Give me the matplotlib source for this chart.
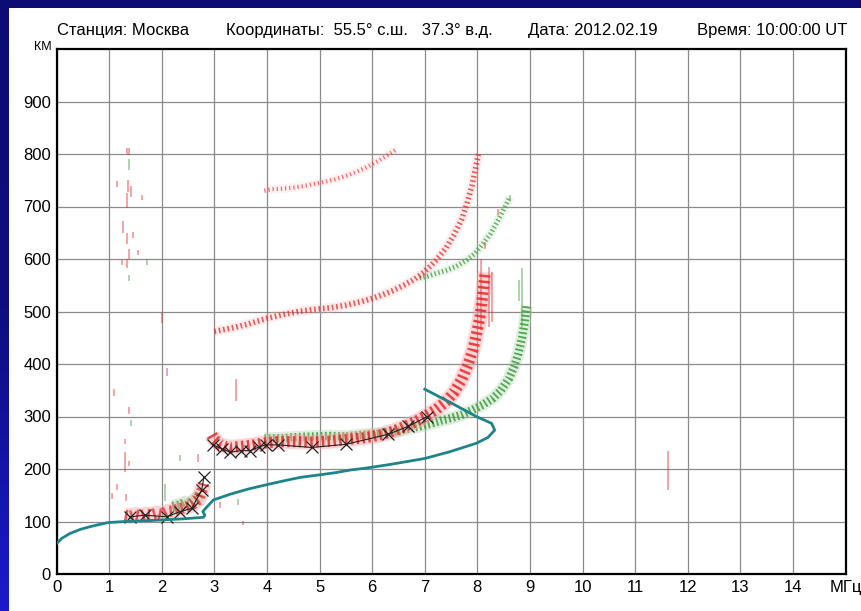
import matplotlib
matplotlib.use("Agg")
import matplotlib.pyplot as plt
import numpy as np
from matplotlib.patches import Rectangle
from matplotlib.colors import LinearSegmentedColormap

plt.rcParams['font.family'] = ['Liberation Sans', 'DejaVu Sans']

# ---------------- data ----------------
x_ticks = list(range(0, 16))
x_tick_labels = [str(v) for v in range(0, 15)] + ['МГц']
y_ticks = list(range(0, 1000, 100))
y_tick_labels = [str(v) for v in y_ticks]

header = ["Станция: Москва", "Координаты:  55.5° с.ш.   37.3° в.д.",
          "Дата: 2012.02.19", "Время: 10:00:00 UT"]

# electron density profile (teal)
profile_f = [0.00, 0.10, 0.25, 0.45, 0.63, 0.80, 0.98, 1.30, 1.60, 2.00, 2.40, 2.79, 2.82,
             2.78, 2.86, 2.98, 3.30, 3.65, 3.99, 4.30, 4.63, 5.01, 5.30, 5.58, 5.90, 6.30,
             6.65, 7.00, 7.48, 7.98, 8.20, 8.33, 8.27, 7.98, 7.50, 7.00]
profile_h = [58, 68, 77, 85, 90, 94, 98, 100, 101, 103, 105, 108, 112,
             119, 128, 141, 152, 162, 170, 177, 184, 189, 193, 198, 202, 208,
             214, 220, 233, 249, 260, 274, 287, 300, 326, 352]

# scaled trace marks (black X)
xe_f = [1.40, 1.68, 2.09, 2.35, 2.57, 2.76, 2.80]
xe_h = [109, 112, 109, 119, 125, 160, 185]
xf_f = [2.98, 3.15, 3.30, 3.50, 3.68, 3.85, 3.98, 4.21, 4.85, 5.50, 6.30, 6.68, 7.05]
xf_h = [246, 238, 232, 235, 235, 242, 246, 246, 241, 247, 266, 281, 300]

# O-mode (red) traces
red_e_f = [1.30, 1.40, 1.50, 1.60, 1.70, 1.80, 1.90, 2.00, 2.10, 2.20, 2.30, 2.40, 2.50,
           2.60, 2.70, 2.75, 2.80]
red_e_h = [112, 110, 113, 111, 114, 113, 116, 114, 119, 120, 123, 126, 129,
           134, 142, 155, 172]
red_f_f = [2.95, 3.00, 3.10, 3.20, 3.30, 3.40, 3.50, 3.60, 3.70, 3.80, 3.90, 4.00, 4.20,
           4.40, 4.60, 4.80, 5.00, 5.20, 5.40, 5.60, 5.80, 6.00, 6.20, 6.40, 6.60, 6.80,
           7.00, 7.20, 7.40, 7.55, 7.70, 7.82, 7.92, 7.98, 8.05, 8.10, 8.15]
red_f_h = [265, 256, 247, 243, 241, 242, 243, 244, 245, 247, 249, 250, 252,
           252, 252, 251, 252, 253, 255, 257, 259, 262, 266, 272, 280, 289,
           300, 312, 328, 345, 370, 398, 428, 455, 490, 530, 575]
red_2f_f = [3.00, 3.20, 3.40, 3.60, 3.80, 4.00, 4.30, 4.60, 4.90, 5.20, 5.50, 5.80,
            6.00, 6.20, 6.40, 6.60, 6.80, 7.00, 7.20, 7.40, 7.55, 7.70, 7.80, 7.90,
            7.96, 8.02]
red_2f_h = [462, 466, 470, 475, 481, 487, 494, 500, 504, 507, 512, 519,
            525, 532, 540, 550, 561, 576, 596, 620, 645, 675, 705, 740,
            770, 800]
red_3f_f = [3.95, 4.10, 4.30, 4.50, 4.70, 4.90, 5.10, 5.30, 5.50, 5.70, 5.90, 6.10,
            6.30, 6.45]
red_3f_h = [730, 733, 734, 736, 739, 743, 747, 752, 758, 766, 775, 786, 798, 808]

# X-mode (green) traces
grn_e_f = [2.20, 2.35, 2.45, 2.55, 2.65, 2.72]
grn_e_h = [128, 131, 136, 134, 143, 152]
grn_f_f = [3.95, 4.30, 4.60, 4.90, 5.20, 5.50, 5.80, 6.10, 6.40, 6.70, 6.90, 7.10, 7.30,
           7.50, 7.70, 7.90, 8.10, 8.30, 8.45, 8.60, 8.70, 8.78, 8.85, 8.90, 8.94]
grn_f_h = [258, 259, 261, 262, 263, 262, 265, 267, 270, 277, 281, 286, 292,
           297, 303, 312, 322, 335, 350, 372, 395, 420, 450, 480, 510]
grn_2f_f = [6.90, 7.05, 7.20, 7.40, 7.60, 7.80, 7.95, 8.10, 8.25, 8.40, 8.52, 8.62]
grn_2f_h = [564, 567, 572, 578, 586, 598, 610, 628, 648, 675, 698, 718]

# isolated echo dashes: frequency, bottom, top, colour code
dash_f = [1.33, 1.38, 1.38, 1.36, 1.41, 1.15, 1.34, 1.62, 1.34, 1.38, 1.55, 1.24,
          1.33, 1.38, 1.72, 1.10, 1.38, 1.41, 1.30, 1.30, 1.38, 1.05, 1.14, 1.32,
          2.06, 2.35, 2.69, 3.42, 3.10, 3.45, 3.55, 2.10, 2.00, 11.62, 8.40,
          8.62, 8.07, 8.22, 8.28, 8.15, 8.84, 8.80, 1.27, 1.45]
dash_lo = [800, 798, 770, 728, 718, 738, 698, 712, 628, 600, 608, 588,
           583, 558, 588, 340, 305, 282, 247, 195, 205, 143, 160, 140,
           140, 215, 214, 330, 126, 131, 93, 378, 478, 160, 684,
           712, 465, 470, 480, 620, 470, 520, 650, 640]
dash_hi = [812, 812, 790, 750, 740, 748, 725, 722, 650, 620, 618, 598,
           600, 570, 600, 352, 318, 294, 258, 232, 215, 155, 172, 152,
           172, 226, 228, 372, 137, 142, 101, 392, 500, 235, 696,
           722, 600, 585, 575, 632, 582, 560, 672, 652]
dash_c = ['r', 'r', 'g', 'r', 'r', 'r', 'r', 'r', 'r', 'r', 'r', 'r',
          'r', 'g', 'g', 'r', 'r', 'g', 'r', 'r', 'r', 'r', 'r', 'r',
          'g', 'g', 'r', 'r', 'r', 'g', 'r', 'r', 'r', 'r', 'r',
          'g', 'r', 'r', 'r', 'r', 'g', 'g', 'r', 'r']

# ---------------- figure ----------------
W, H = 861, 611
fig = plt.figure(figsize=(W / 100, H / 100), dpi=100)
fig.patch.set_facecolor('white')

# slide background strips
fig.add_artist(Rectangle((0, 1 - 8 / H), 1, 8 / H, transform=fig.transFigure,
                         facecolor='#0c0c74', edgecolor='none', zorder=0))
lax = fig.add_axes([0, 0, 9 / W, 1 - 8 / H])
grad = np.linspace(0, 1, 256).reshape(-1, 1)
cmap = LinearSegmentedColormap.from_list('bg', ['#0c0c74', '#0e0e80', '#1a1acc'])
lax.imshow(grad, aspect='auto', cmap=cmap, extent=[0, 1, 0, 1], origin='upper')
lax.set_axis_off()

ax = fig.add_axes([56.6 / W, 1 - 574 / H, (845.5 - 56.6) / W, (574 - 49) / H])
ax.set_xlim(0, 15)
ax.set_ylim(0, 1000)
ax.set_xticks(x_ticks)
ax.set_xticklabels(x_tick_labels)
ax.set_yticks(y_ticks)
ax.set_yticklabels(y_tick_labels)
ax.tick_params(length=0, labelsize=12, pad=4)
ax.grid(True, color='#8a8a8a', lw=0.9, zorder=0)
ax.set_axisbelow(True)
for s in ax.spines.values():
    s.set_linewidth(1.6)
    s.set_color('black')

RED, PINK = '#e8262a', '#f4a6a6'
GRN, LGRN = '#3a9a3a', '#a6d2a6'


def trace(f, h, c, light, lw=7, halo=0.45, z=3, dash=(0.22, 0.30), a=0.85):
    ax.plot(f, h, color=light, lw=lw + 3, alpha=halo, solid_capstyle='butt', zorder=z - 1)
    ax.plot(f, h, color=c, lw=lw, alpha=a, linestyle=(0, dash),
            solid_capstyle='butt', dash_capstyle='butt', zorder=z)


trace(grn_e_f, grn_e_h, GRN, LGRN, lw=7, z=3)
trace(red_e_f, red_e_h, RED, PINK, lw=8, z=4, a=0.75)
trace(grn_f_f, grn_f_h, GRN, LGRN, lw=6, halo=0.35, z=3)
trace(red_f_f, red_f_h, RED, PINK, lw=8, z=4)
trace(red_2f_f, red_2f_h, RED, PINK, lw=4, halo=0.2, z=4, dash=(0.3, 0.5), a=0.75)
trace(grn_2f_f, grn_2f_h, GRN, LGRN, lw=3.5, halo=0.2, z=3, dash=(0.3, 0.5), a=0.75)
trace(red_3f_f, red_3f_h, RED, PINK, lw=3, halo=0.15, z=4, dash=(0.3, 0.7), a=0.65)

cmapc = {'r': RED, 'g': GRN}
ax.vlines(dash_f, dash_lo, dash_hi, colors=[cmapc[c] for c in dash_c], lw=1.3,
          alpha=0.45, zorder=3)

ax.plot(profile_f, profile_h, color='#1d8589', lw=2.0, zorder=6)

ax.plot(xe_f, xe_h, color='#222222', lw=0.8, marker='x', ms=8.5, mew=0.9, zorder=5)
ax.plot(xf_f, xf_h, color='#222222', lw=0.8, marker='x', ms=8.5, mew=0.9, zorder=5)

# header texts
for txt, xp in zip(header, [57, 226, 528, 697]):
    fig.text(xp / W, 1 - 30 / H, txt, fontsize=12, va='center', ha='left')
fig.text(52 / W, 1 - 47 / H, 'КМ', fontsize=9, va='center', ha='right')

fig.savefig('out.png', dpi=100)
